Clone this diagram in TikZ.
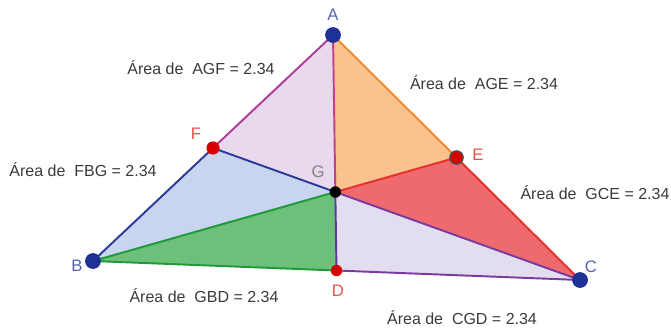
\documentclass[tikz,border=0pt]{standalone}
\usepackage{fontspec}
\setmainfont{Liberation Sans}
\usetikzlibrary{calc}

\definecolor{lilas}{HTML}{E9D9EC}
\definecolor{laranja}{HTML}{F9C28E}
\definecolor{vermelho}{HTML}{EE6A6E}
\definecolor{lavanda}{HTML}{E2DEF0}
\definecolor{verde}{HTML}{6CC07A}
\definecolor{azulclaro}{HTML}{C9D5EE}
\definecolor{texto}{HTML}{3A3A3A}
\definecolor{rotuloazul}{HTML}{5564A8}
\definecolor{rotulovermelho}{HTML}{E0554A}

\tikzset{
  lado/.style={line width=1.1pt},
  area/.style={text=texto, font=\fontsize{9.1}{11}\selectfont},
  rotulo/.style={font=\fontsize{9.5}{11}\selectfont},
  ponto/.style={circle, inner sep=0pt, minimum size=#1}
}

\begin{document}
\begin{tikzpicture}[x=0.02cm,y=-0.02cm]
\useasboundingbox (0,0) rectangle (671,329);

% vertices
\coordinate (A) at (333,35);
\coordinate (B) at (93,261);
\coordinate (C) at (580,280);

% pontos medios e baricentro
\coordinate (D) at ($(B)!0.5!(C)$);
\coordinate (E) at ($(A)!0.5!(C)$);
\coordinate (F) at ($(A)!0.5!(B)$);
\coordinate (G) at ($1/3*(A)+1/3*(B)+1/3*(C)$);

\fill[lilas] (A) -- (G) -- (F) -- cycle;
\fill[laranja] (A) -- (G) -- (E) -- cycle;
\fill[vermelho] (G) -- (C) -- (E) -- cycle;
\fill[lavanda] (C) -- (G) -- (D) -- cycle;
\fill[verde] (G) -- (B) -- (D) -- cycle;
\fill[azulclaro] (F) -- (B) -- (G) -- cycle;

\draw[lado, color={rgb,255:red,176;green,58;blue,154}] (A) -- (F);
\draw[lado, color={rgb,255:red,43;green,58;blue,154}] (F) -- (B);
\draw[lado, color={rgb,255:red,30;green,154;blue,58}] (B) -- (D);
\draw[lado, color={rgb,255:red,122;green,58;blue,160}] (D) -- (C);
\draw[lado, color={rgb,255:red,232;green,48;blue,42}] (C) -- (E);
\draw[lado, color={rgb,255:red,240;green,138;blue,42}] (E) -- (A);

\draw[lado, color={rgb,255:red,192;green,64;blue,138}] (A) -- (G);
\draw[lado, color={rgb,255:red,90;green,58;blue,160}] (G) -- (D);
\draw[lado, color={rgb,255:red,30;green,154;blue,58}] (B) -- (G);
\draw[lado, color={rgb,255:red,232;green,48;blue,42}] (G) -- (E);
\draw[lado, color={rgb,255:red,122;green,58;blue,160}] (C) -- (G);
\draw[lado, color={rgb,255:red,43;green,58;blue,154}] (G) -- (F);

\node[ponto=9pt, fill={rgb,255:red,30;green,50;blue,150}] (pA) at (A) {};
\node[ponto=9pt, fill={rgb,255:red,30;green,50;blue,150}] (pB) at (B) {};
\node[ponto=9pt, fill={rgb,255:red,30;green,50;blue,150}] (pC) at (C) {};
\node[ponto=6.5pt, fill=red!85!black] (pD) at (D) {};
\node[ponto=7.5pt, fill=red!85!black, draw=black!70, line width=0.8pt] (pE) at (E) {};
\node[ponto=7.5pt, fill=red!85!black] (pF) at (F) {};
\node[ponto=6.5pt, fill=black] (pG) at (G) {};

\node[rotulo, text=rotuloazul] at (333,15) {A};
\node[rotulo, text=rotuloazul] at (77,266) {B};
\node[rotulo, text=rotuloazul] at (591,267) {C};
\node[rotulo, text=rotulovermelho] at (338,291) {D};
\node[rotulo, text=rotulovermelho] at (478,155) {E};
\node[rotulo, text=rotulovermelho] at (196,134) {F};
\node[rotulo, text=gray] at (318,172) {G};

\node[area] at (201,68) {Área de \ AGF = 2.34};
\node[area] at (484,83) {Área de \ AGE = 2.34};
\node[area] at (83,170) {Área de \ FBG = 2.34};
\node[area] at (595,193) {Área de \ GCE = 2.34};
\node[area] at (204,296) {Área de \ GBD = 2.34};
\node[area] at (462,318) {Área de \ CGD = 2.34};
\end{tikzpicture}
\end{document}
